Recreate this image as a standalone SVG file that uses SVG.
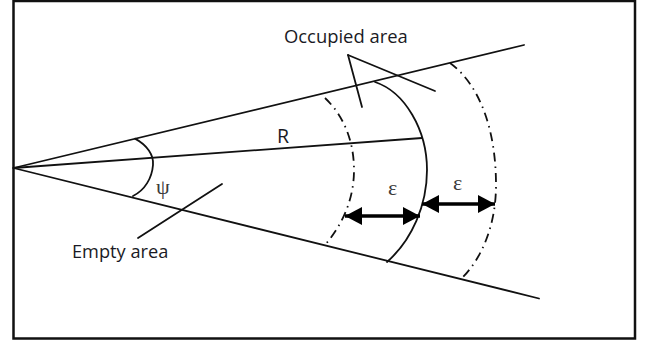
<svg xmlns="http://www.w3.org/2000/svg" width="650" height="345" viewBox="0 0 650 345">
  <style>
    .ln { fill: none; stroke: #111; stroke-width: 1.8; stroke-linecap: round; }
    .dd { fill: none; stroke: #111; stroke-width: 1.8; stroke-dasharray: 9 5 1.5 5; }
    .arr { fill: none; stroke: #000; stroke-width: 3.5; }
    .lbl { font-family: "Open Sans", "Liberation Sans", sans-serif; fill: #1a1a24; }
    .sym { font-family: "Liberation Serif", "DejaVu Serif", serif; fill: #3a3a3a; }
  </style>
  <defs>
    <marker id="head" viewBox="0 0 17 18" refX="17" refY="9" markerWidth="17" markerHeight="18" markerUnits="userSpaceOnUse" orient="auto-start-reverse">
      <path d="M0,0 L17,9 L0,18 Z" fill="#000"/>
    </marker>
  </defs>
  <rect width="650" height="345" fill="#fff"/>
  <g id="frame">
    <rect x="13.5" y="1" width="621.5" height="337.5" fill="none" stroke="#111" stroke-width="2.5"/>
  </g>
  <g id="sector">
    <line class="ln" x1="13.5" y1="168" x2="524" y2="45"/>
    <line class="ln" x1="13.5" y1="168" x2="539" y2="298.5"/>
    <line class="ln" x1="13.5" y1="168" x2="422" y2="138"/>
    <path id="psi-arc" class="ln" d="M135,138.6 C147,145 154,155 153,165 C152,178 145,190 133,196"/>
  </g>
  <g id="occupied-boundary">
    <path class="ln" d="M375,82 C405,92 427,130 427,170 C427,205 412,240 387,262"/>
  </g>
  <g id="inner-margin">
    <path class="dd" d="M325,98 C343,115 354,140 354,170 C354,200 342,225 325,245"/>
  </g>
  <g id="outer-margin">
    <path class="dd" d="M450,63 C480,85 496,130 496,185 C496,225 482,258 462,278"/>
  </g>
  <g id="connectors">
    <line class="ln" x1="348" y1="55" x2="362" y2="107"/>
    <line class="ln" x1="348" y1="55" x2="435" y2="91"/>
    <line class="ln" x1="138" y1="238" x2="222" y2="184"/>
    <line class="arr" x1="345" y1="216" x2="420" y2="216" marker-start="url(#head)" marker-end="url(#head)"/>
    <line class="arr" x1="422" y1="204" x2="495" y2="204" marker-start="url(#head)" marker-end="url(#head)"/>
  </g>
  <g id="labels">
    <text class="lbl" x="284" y="43" font-size="18.4">Occupied area</text>
    <text class="lbl" x="72" y="258" font-size="18.2">Empty area</text>
    <text class="lbl" x="277" y="143" font-size="19.5">R</text>
    <text class="sym" x="156" y="194" font-size="22">ψ</text>
    <text class="sym" x="388" y="195" font-size="22">ε</text>
    <text class="sym" x="453" y="190" font-size="22">ε</text>
  </g>
</svg>
